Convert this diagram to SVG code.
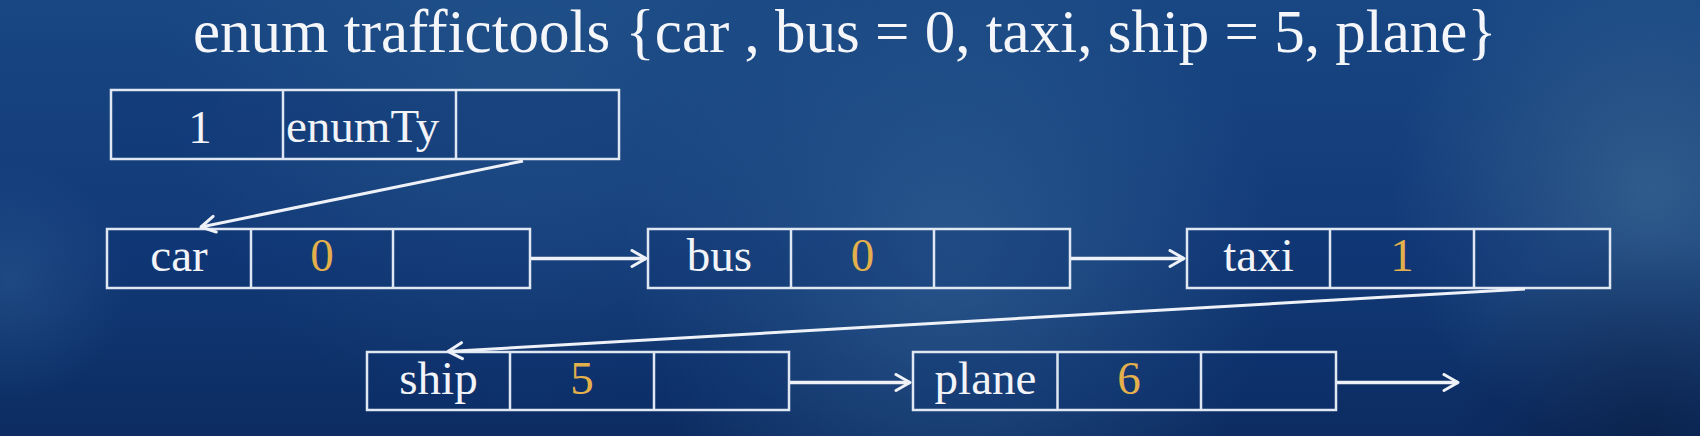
<svg xmlns="http://www.w3.org/2000/svg" width="1700" height="436" viewBox="0 0 1700 436">
  <defs>
    <linearGradient id="bg" x1="0" y1="0" x2="0" y2="1">
      <stop offset="0" stop-color="#184783"/>
      <stop offset="0.55" stop-color="#123a78"/>
      <stop offset="1" stop-color="#0c2c62"/>
    </linearGradient>
    <radialGradient id="glow1" cx="950" cy="250" r="330" gradientUnits="userSpaceOnUse">
      <stop offset="0" stop-color="#2f5f92" stop-opacity="0.75"/>
      <stop offset="1" stop-color="#2f5f92" stop-opacity="0"/>
    </radialGradient>
    <radialGradient id="glow2" cx="1650" cy="190" r="260" gradientUnits="userSpaceOnUse">
      <stop offset="0" stop-color="#34608f" stop-opacity="0.85"/>
      <stop offset="1" stop-color="#34608f" stop-opacity="0"/>
    </radialGradient>
    <radialGradient id="glow3" cx="520" cy="60" r="360" gradientUnits="userSpaceOnUse">
      <stop offset="0" stop-color="#26568c" stop-opacity="0.6"/>
      <stop offset="1" stop-color="#26568c" stop-opacity="0"/>
    </radialGradient>
    <radialGradient id="glow4" cx="10" cy="280" r="120" gradientUnits="userSpaceOnUse">
      <stop offset="0" stop-color="#2b5a90" stop-opacity="0.5"/>
      <stop offset="1" stop-color="#2b5a90" stop-opacity="0"/>
    </radialGradient>
    <radialGradient id="dark1" cx="1650" cy="436" r="200" gradientUnits="userSpaceOnUse">
      <stop offset="0" stop-color="#0a1f45" stop-opacity="0.7"/>
      <stop offset="1" stop-color="#0a1f45" stop-opacity="0"/>
    </radialGradient>
    <marker id="arrow" markerUnits="userSpaceOnUse" markerWidth="18" markerHeight="20" viewBox="0 0 18 20" refX="16" refY="10" orient="auto">
      <path d="M2,2 L16,10 L2,18" fill="none" stroke="#eef2f8" stroke-width="3" stroke-linecap="round" stroke-linejoin="round"/>
    </marker>
    <style>
      .box { fill: #0d3372; fill-opacity: 0.3; stroke: #dfe7f2; stroke-width: 2.5; }
      .div { stroke: #dfe7f2; stroke-width: 2.5; }
      .lbl { font-family: "Liberation Serif", "Times New Roman", serif; font-size: 47px; fill: #f2f4f8; text-anchor: middle; }
      .val { font-family: "Liberation Serif", "Times New Roman", serif; font-size: 47px; fill: #e3b04c; text-anchor: middle; }
      .title { font-family: "Liberation Serif", "Times New Roman", serif; font-size: 61px; fill: #f4f6fa; }
      .link { stroke: #eef2f8; stroke-width: 3.5; fill: none; marker-end: url(#arrow); }
      .diag { stroke: #eef2f8; stroke-width: 3; fill: none; marker-end: url(#arrow); }
    </style>
  </defs>

  <rect x="0" y="0" width="1700" height="436" fill="url(#bg)"/>
  <rect x="0" y="0" width="1700" height="436" fill="url(#glow1)"/>
  <rect x="0" y="0" width="1700" height="436" fill="url(#glow2)"/>
  <rect x="0" y="0" width="1700" height="436" fill="url(#glow3)"/>
  <rect x="0" y="0" width="1700" height="436" fill="url(#glow4)"/>
  <rect x="0" y="0" width="1700" height="436" fill="url(#dark1)"/>

  <text class="title" x="193" y="52">enum traffictools {car , bus = 0, taxi, ship = 5, plane}</text>

  <g id="node-header">
    <rect class="box" x="111" y="90" width="508" height="69"/>
    <line class="div" x1="283" y1="90" x2="283" y2="159"/>
    <line class="div" x1="456" y1="90" x2="456" y2="159"/>
    <text class="lbl" x="200" y="143">1</text>
    <text class="lbl" x="286" y="142" style="text-anchor:start">enumTy</text>
  </g>

  <g id="node-car">
    <rect class="box" x="107" y="229" width="423" height="59"/>
    <line class="div" x1="251" y1="229" x2="251" y2="288"/>
    <line class="div" x1="393" y1="229" x2="393" y2="288"/>
    <text class="lbl" x="179" y="271">car</text>
    <text class="val" x="322" y="271">0</text>
  </g>

  <g id="node-bus">
    <rect class="box" x="648" y="229" width="422" height="59"/>
    <line class="div" x1="791" y1="229" x2="791" y2="288"/>
    <line class="div" x1="934" y1="229" x2="934" y2="288"/>
    <text class="lbl" x="719.5" y="271">bus</text>
    <text class="val" x="862.5" y="271">0</text>
  </g>

  <g id="node-taxi">
    <rect class="box" x="1187" y="229" width="423" height="59"/>
    <line class="div" x1="1330" y1="229" x2="1330" y2="288"/>
    <line class="div" x1="1474" y1="229" x2="1474" y2="288"/>
    <text class="lbl" x="1258.5" y="271">taxi</text>
    <text class="val" x="1402" y="271">1</text>
  </g>

  <g id="node-ship">
    <rect class="box" x="367" y="352" width="422" height="58"/>
    <line class="div" x1="510" y1="352" x2="510" y2="410"/>
    <line class="div" x1="654" y1="352" x2="654" y2="410"/>
    <text class="lbl" x="438.5" y="394">ship</text>
    <text class="val" x="582" y="394">5</text>
  </g>

  <g id="node-plane">
    <rect class="box" x="913" y="352" width="423" height="58"/>
    <line class="div" x1="1057.5" y1="352" x2="1057.5" y2="410"/>
    <line class="div" x1="1201" y1="352" x2="1201" y2="410"/>
    <text class="lbl" x="985.5" y="394">plane</text>
    <text class="val" x="1129" y="394">6</text>
  </g>

  <g id="connectors">
    <line class="diag" x1="523" y1="161" x2="201" y2="227"/>
    <line class="link" x1="531" y1="258.5" x2="646" y2="258.5"/>
    <line class="link" x1="1071" y1="258.5" x2="1184" y2="258.5"/>
    <line class="diag" x1="1525" y1="289" x2="448" y2="351.5"/>
    <line class="link" x1="790" y1="382.5" x2="910" y2="382.5"/>
    <line class="link" x1="1337" y1="382.5" x2="1458" y2="382.5"/>
  </g>
</svg>
